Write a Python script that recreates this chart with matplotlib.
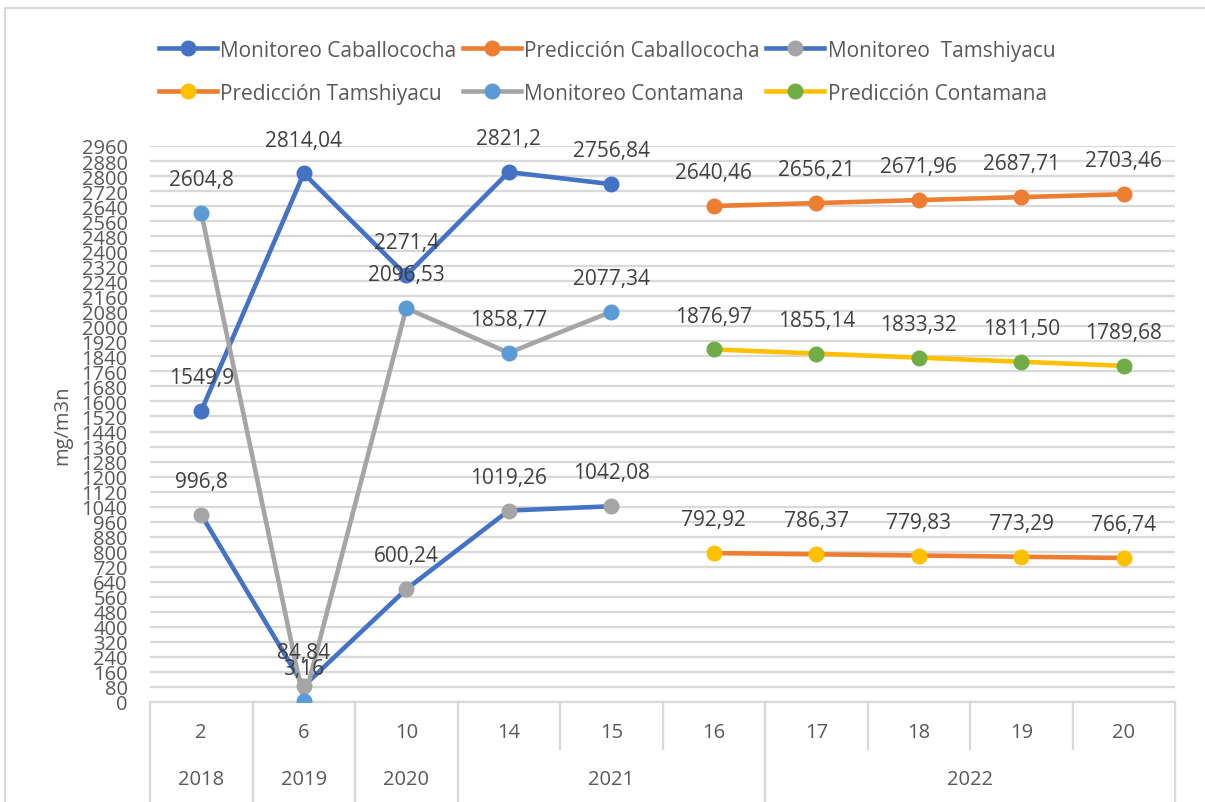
import numpy as np
import matplotlib
matplotlib.use("Agg")
import matplotlib.pyplot as plt
from matplotlib.lines import Line2D
from matplotlib.patches import Rectangle

plt.rcParams['font.family'] = ['Open Sans', 'DejaVu Sans']

# ---------------- data ----------------
categories = ['2', '6', '10', '14', '15', '16', '17', '18', '19', '20']
years = ['2018', '2019', '2020', '2021', '2022']
year_spans = [1, 1, 1, 3, 4]

mon_idx = [0, 1, 2, 3, 4]
pred_idx = [5, 6, 7, 8, 9]

mon_caballococha = [1549.9, 2814.04, 2271.4, 2821.2, 2756.84]
pred_caballococha = [2640.46, 2656.21, 2671.96, 2687.71, 2703.46]
mon_tamshiyacu = [996.8, 84.84, 600.24, 1019.26, 1042.08]
pred_tamshiyacu = [792.92, 786.37, 779.83, 773.29, 766.74]
mon_contamana = [2604.8, 3.16, 2096.53, 1858.77, 2077.34]
pred_contamana = [1876.97, 1855.14, 1833.32, 1811.50, 1789.68]

y_ticks = list(range(0, 2961, 80))

# ---------------- style ----------------
BLUE = '#4472C4'
ORANGE = '#ED7D31'
GREY = '#A5A5A5'
YELLOW = '#FFC000'
LBLUE = '#5B9BD5'
GREEN = '#70AD47'
TXT = '#595959'
LBL = '#404040'
GRID = '#D9D9D9'

W, H = 1205, 803
AX_TOP, AX_BOT = 147, 703
fig = plt.figure(figsize=(W / 100, H / 100), dpi=100)
ax = fig.add_axes([150 / W, (H - AX_BOT) / H, (1175 - 150) / W, (AX_BOT - AX_TOP) / H])
AXH = AX_BOT - AX_TOP

series = [
    ('Monitoreo Caballococha', mon_idx, mon_caballococha, BLUE, BLUE, 'g'),
    ('Predicción Caballococha', pred_idx, pred_caballococha, ORANGE, ORANGE, 'f'),
    ('Monitoreo  Tamshiyacu', mon_idx, mon_tamshiyacu, BLUE, GREY, 'g'),
    ('Predicción Tamshiyacu', pred_idx, pred_tamshiyacu, ORANGE, YELLOW, 'f'),
    ('Monitoreo Contamana', mon_idx, mon_contamana, GREY, LBLUE, 'g'),
    ('Predicción Contamana', pred_idx, pred_contamana, YELLOW, GREEN, 'f'),
]

LW = 3.3
MS = 10.5
handles = []
for k, (name, xs, ys, lc, mc, fmt) in enumerate(series):
    ax.plot(xs, ys, color=lc, lw=LW, zorder=3 + k * 0.1, solid_capstyle='round')
    ax.plot(xs, ys, ls='none', marker='o', ms=MS, mfc=mc, mec=mc, zorder=5 + k * 0.1)
    handles.append(Line2D([0], [0], color=lc, lw=LW, marker='o', ms=MS, mfc=mc, mec=mc))
    for x, y in zip(xs, ys):
        if fmt == 'g':
            s = f"{y:g}".replace('.', ',')
        else:
            s = f"{y:.2f}".replace('.', ',')
        ax.annotate(s, (x, y), xytext=(0, 24), textcoords='offset points',
                    ha='center', va='center', fontsize=15, color=LBL, zorder=10)

ax.set_xlim(-0.5, len(categories) - 0.5)
ax.set_ylim(0, 2960)
ax.set_yticks(y_ticks)
ax.set_yticklabels([str(v) for v in y_ticks], fontsize=14.5, color=TXT)
ax.tick_params(axis='y', length=0, pad=16)
ax.set_xticks([])
for sp in ax.spines.values():
    sp.set_visible(False)
ax.yaxis.grid(True, color=GRID, lw=1.6, zorder=0)
ax.set_axisbelow(True)

# category table below axis
trans = ax.get_xaxis_transform()
ax.plot([-0.5, len(categories) - 0.5], [0, 0], transform=trans, color=GRID, lw=1.6, clip_on=False)
short_end = -(750 - AX_BOT) / AXH
long_end = -(803 - AX_BOT) / AXH - 0.01
year_bounds = {0}
acc = 0
for sp_ in year_spans:
    acc += sp_
    year_bounds.add(acc)
for b in range(len(categories) + 1):
    yend = long_end if b in year_bounds else short_end
    ax.plot([b - 0.5, b - 0.5], [0, yend], transform=trans, color=GRID, lw=1.6, clip_on=False)
for i, c in enumerate(categories):
    ax.text(i, -(733 - AX_BOT) / AXH, c, transform=trans, ha='center', va='center',
            fontsize=14.5, color=TXT)
acc = 0
for yr, sp_ in zip(years, year_spans):
    center = acc + (sp_ - 1) / 2
    ax.text(center, -(780 - AX_BOT) / AXH, yr, transform=trans, ha='center', va='center',
            fontsize=14.5, color=TXT)
    acc += sp_

fig.text(62 / W, (H - 425) / H, 'mg/m3n', rotation=90, ha='center', va='center',
         fontsize=14.5, color=TXT)

# legend (row-major order)
names = [s[0] for s in series]
order = [0, 3, 1, 4, 2, 5]
leg = fig.legend([handles[i] for i in order], [names[i] for i in order],
                 loc='upper left', bbox_to_anchor=(140 / W, 1 - 22 / H), ncol=3,
                 frameon=False, fontsize=15, handlelength=2.8, handletextpad=0.15,
                 columnspacing=0.3, labelspacing=1.05)
for t in leg.get_texts():
    t.set_color(TXT)

# chart border
fig.patches.append(Rectangle((5 / W, -0.02), 1.05, (H - 9) / H + 0.02, transform=fig.transFigure,
                             fill=False, ec=GRID, lw=1.5))

fig.savefig('out.png', dpi=100)
